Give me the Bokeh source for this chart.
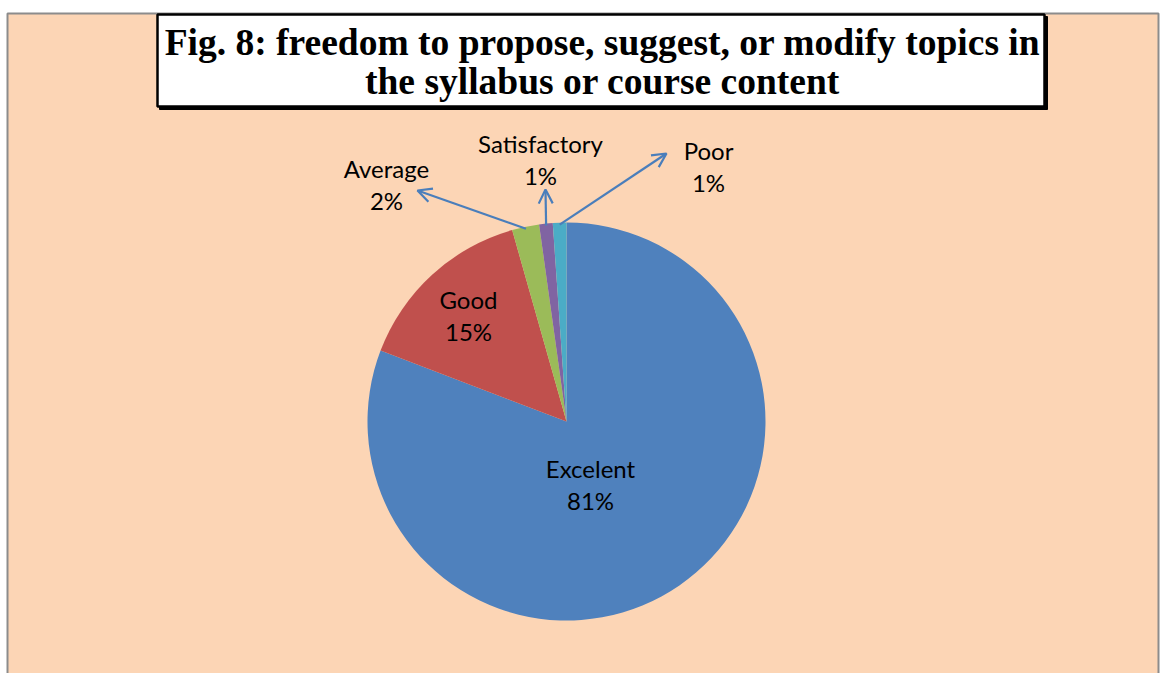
import numpy as np
from bokeh.plotting import figure
from bokeh.models import ColumnDataSource, Arrow, OpenHead, Range1d
from bokeh.core.properties import value
from bokeh.embed import file_html
from bokeh.resources import INLINE

# ---- data ----
categories = ["Excelent", "Good", "Average", "Satisfactory", "Poor"]
percents = [80.8, 14.8, 2.2, 1.1, 1.1]
colors = ["#4F81BD", "#C0504D", "#9BBB59", "#8064A2", "#4BACC6"]
title_lines = ["Fig. 8: freedom to propose, suggest, or modify topics in",
               "the syllabus or course content"]

W, H = 1160, 673
def px(x):  # page pixel -> data x
    return x
def py(y):  # page pixel -> data y
    return H - y

p = figure(width=W, height=H, output_backend="svg", toolbar_location=None,
           x_range=Range1d(0, W), y_range=Range1d(0, H), min_border=0,
           background_fill_color="white", border_fill_color="white")
p.axis.visible = False
p.grid.visible = False
p.outline_line_color = None

# chart area background + border
p.quad(left=[px(7)], right=[px(1158)], bottom=[-10], top=[py(13)],
       fill_color="#FCD5B5", line_color="#8C8C8C", line_width=2)

# title box with shadow
p.quad(left=[px(159)], right=[px(1047)], bottom=[py(109)], top=[py(16)],
       fill_color="black", line_color="black")
p.quad(left=[px(157)], right=[px(1044)], bottom=[py(106)], top=[py(14)],
       fill_color="white", line_color="black", line_width=2.5)
p.text(x=[px(602)] * 2, y=[py(42), py(81)], text=title_lines,
       text_font=value("Liberation Serif"), text_font_style="bold",
       text_font_size="37.5px", text_align="center", text_baseline="middle",
       text_color="black")

# pie
cx, cy, r = px(566), py(421), 199
fr = np.array(percents) / sum(percents)
cum = np.concatenate([[0], np.cumsum(fr)])
start = np.pi / 2 - 2 * np.pi * cum[:-1]
end = np.pi / 2 - 2 * np.pi * cum[1:]
src = ColumnDataSource(dict(start=start, end=end, color=colors))
p.wedge(x=cx, y=cy, radius=r, start_angle="start", end_angle="end",
        direction="clock", fill_color="color", line_color=None, source=src)

mid = (start + end) / 2
pcts = [f"{round(v)}%" for v in percents]

# label positions (page pixels: centre x, middle of first line)
label_pos = [(590, 468), (468, 299), (386, 168), (540, 143), (708, 150)]
font = value("Lato")
for (lx, ly), name, pc in zip(label_pos, categories, pcts):
    p.text(x=[px(lx), px(lx)], y=[py(ly), py(ly + 32)], text=[name, pc],
           text_font=font, text_font_size="24px", text_align="center",
           text_baseline="middle", text_color="black")

# leader arrows for small slices
arrow_tips = {2: (417, 190), 3: (545, 189), 4: (666, 153)}
for i, (tx, ty) in arrow_tips.items():
    sx = cx + (r - 2) * np.cos(mid[i])
    sy = cy + (r - 2) * np.sin(mid[i])
    p.add_layout(Arrow(x_start=sx, y_start=sy, x_end=px(tx), y_end=py(ty),
                       line_color="#4A7EBB", line_width=2.2,
                       end=OpenHead(size=14, line_color="#4A7EBB", line_width=2.2)))

open("out.html", "w").write(file_html(p, INLINE))
